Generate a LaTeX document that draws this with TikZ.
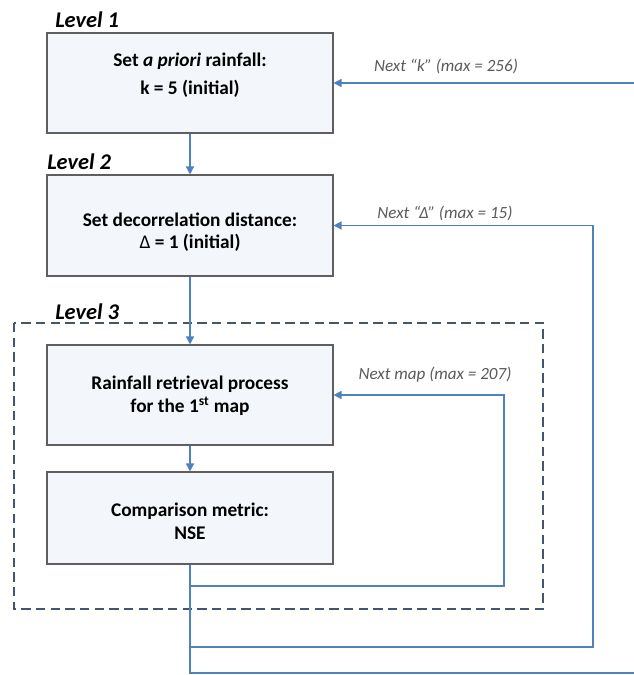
\documentclass[tikz,border=0pt]{standalone}
\usepackage{fontspec}
\setmainfont{Carlito}
\usetikzlibrary{arrows.meta}

\definecolor{flowblue}{RGB}{79,129,189}
\definecolor{stagefill}{RGB}{243,246,250}
\definecolor{stageline}{RGB}{95,95,95}
\definecolor{levelline}{RGB}{70,85,110}
\definecolor{loopgrey}{RGB}{90,90,90}

\begin{document}
\begin{tikzpicture}[x=0.75pt,y=-0.75pt,
    stage/.style={draw=stageline, fill=stagefill, line width=0.8pt,
        minimum width=214.5pt, minimum height=75pt, inner sep=0pt},
    stagetext/.style={align=center, font=\fontsize{14.5}{17}\selectfont\bfseries},
    levelname/.style={anchor=west, inner sep=0pt, font=\fontsize{16.8}{19}\selectfont\bfseries\itshape},
    looptext/.style={inner sep=0pt, text=loopgrey, font=\fontsize{12.8}{15}\selectfont\itshape},
    flow/.style={draw=flowblue, line width=1pt, -{Triangle[length=6pt,width=6pt]}},
    levelbox/.style={draw=levelline, line width=1.1pt, dash pattern=on 7pt off 4pt}]
    \useasboundingbox (0,0) rectangle (634,675);

    % level 1
    \node[levelname] (lvl1) at (55,20) {Level 1};
    \node[stage] (setk) at (190,83) {};
    \node[stagetext] (setktext) at (190,75) {Set \textit{a priori} rainfall:\\[4pt] k = 5 (initial)};

    % level 2
    \node[levelname] (lvl2) at (47,162) {Level 2};
    \node[stage, minimum height=75.75pt] (setdelta) at (190,225.5) {};
    \node[stagetext] (setdeltatext) at (190,232) {Set decorrelation distance:\\ {\mdseries Δ} = 1 (initial)};

    % level 3
    \draw[levelbox] (14,323) rectangle (543,609);
    \node[levelname] (lvl3) at (55,312) {Level 3};
    \node[stage] (retrieval) at (190,395) {};
    \node[stagetext] (retrievaltext) at (190,396) {Rainfall retrieval process\\ for the 1\textsuperscript{st} map};
    \node[stage, minimum height=69pt] (nse) at (190,518) {};
    \node[stagetext] (nsetext) at (190,521) {Comparison metric:\\ NSE};

    % bends of the return loops
    \coordinate (mapturn) at (504,586);
    \coordinate (deltaturn) at (593,647);
    \coordinate (kturn) at (640,673);

    \draw[flow] (setk) -- (setdelta);
    \draw[flow] (setdelta) -- (retrieval);
    \draw[flow] (retrieval) -- (nse);

    \draw[flow] (nse.south) |- (mapturn) |- (retrieval.east);
    \draw[flow] (nse.south) |- (deltaturn) |- (setdelta.east);
    \draw[flow] (nse.south) |- (kturn) |- (setk.east);

    \node[looptext] (nextmap) at (435,375) {Next map (max = 207)};
    \node[looptext] (nextdelta) at (445,213) {Next “Δ” (max = 15)};
    \node[looptext] (nextk) at (446,66) {Next “k” (max = 256)};
\end{tikzpicture}
\end{document}
